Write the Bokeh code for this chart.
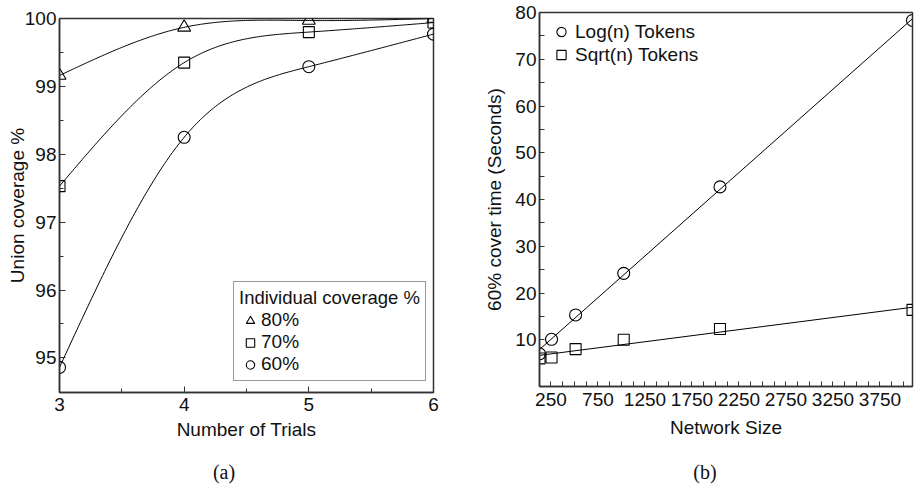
import numpy as np
from bokeh.plotting import figure
from bokeh.layouts import row, column
from bokeh.models import FixedTicker, Legend, LegendItem, Range1d, Div
from bokeh.embed import file_html
from bokeh.resources import INLINE

# ---------------- data (a) ----------------
trials = [3, 4, 5, 6]
cov80 = [99.16, 99.87, 99.97, 100.0]
cov70 = [97.53, 99.35, 99.80, 99.94]
cov60 = [94.86, 98.25, 99.29, 99.77]
a_xticks = [3, 4, 5, 6]
a_xminor = [3.5, 4.5, 5.5]
a_yticks = [95, 96, 97, 98, 99, 100]
a_yminor = [95.5, 96.5, 97.5, 98.5, 99.5]

# ---------------- data (b) ----------------
net_size = [128, 256, 512, 1024, 2048, 4096]
log_tokens = [7.0, 10.1, 15.3, 24.2, 42.7, 78.3]
sqrt_tokens = [6.0, 6.2, 8.0, 10.0, 12.3, 16.4]
b_xticks = [250, 750, 1250, 1750, 2250, 2750, 3250, 3750]
b_xminor = [v for v in range(125, 4096, 125) if v not in b_xticks]
b_yticks = [10, 20, 30, 40, 50, 60, 70, 80]
b_yminor = [5, 15, 25, 35, 45, 55, 65, 75]

FONT = "Liberation Sans"
FS = "19px"
TXT = "#111111"
AX = "#333333"


def natural_spline(x, y, xs):
    x = np.asarray(x, float)
    y = np.asarray(y, float)
    n = len(x)
    h = np.diff(x)
    A = np.zeros((n, n))
    b = np.zeros(n)
    A[0, 0] = 1
    A[-1, -1] = 1
    for i in range(1, n - 1):
        A[i, i - 1] = h[i - 1]
        A[i, i] = 2 * (h[i - 1] + h[i])
        A[i, i + 1] = h[i]
        b[i] = 6 * ((y[i + 1] - y[i]) / h[i] - (y[i] - y[i - 1]) / h[i - 1])
    M = np.linalg.solve(A, b)
    out = np.empty_like(xs)
    for k, t in enumerate(xs):
        i = min(max(np.searchsorted(x, t) - 1, 0), n - 2)
        a = (x[i + 1] - t) / h[i]
        c = (t - x[i]) / h[i]
        out[k] = (a * y[i] + c * y[i + 1]
                  + ((a ** 3 - a) * M[i] + (c ** 3 - c) * M[i + 1]) * h[i] ** 2 / 6)
    return out


def style(p):
    p.xgrid.visible = False
    p.ygrid.visible = False
    p.outline_line_color = AX
    p.outline_line_width = 1.5
    p.outline_line_alpha = 1
    p.background_fill_color = "white"
    p.border_fill_color = "white"
    for ax in (p.xaxis[0], p.yaxis[0]):
        ax.axis_line_color = AX
        ax.axis_line_width = 1.5
        ax.major_tick_in = 6
        ax.major_tick_out = 0
        ax.minor_tick_in = 4
        ax.minor_tick_out = 0
        ax.major_tick_line_color = AX
        ax.minor_tick_line_color = AX
        ax.major_label_text_font = FONT
        ax.major_label_text_font_size = FS
        ax.major_label_text_color = TXT
        ax.axis_label_text_font = FONT
        ax.axis_label_text_font_size = FS
        ax.axis_label_text_font_style = "normal"
        ax.axis_label_text_color = TXT


def caption(text, width, height, left, top):
    html = ('<div style="margin-left:%dpx; width:54px; padding-top:%dpx; text-align:center; '
            'font-family:\'Liberation Serif\', serif; font-size:20px; line-height:24px; '
            'color:%s;">%s</div>') % (left, top, TXT, text)
    return Div(text=html, width=width, height=height, margin=0)


# ---------------- panel (a) ----------------
pa = figure(width=460, height=448, x_range=Range1d(3, 6), y_range=Range1d(94.49, 100),
            output_backend="svg", toolbar_location=None,
            min_border_left=59, min_border_right=27, min_border_top=18, min_border_bottom=56)
style(pa)
pa.xaxis[0].ticker = FixedTicker(ticks=a_xticks, minor_ticks=a_xminor)
pa.yaxis[0].ticker = FixedTicker(ticks=a_yticks, minor_ticks=a_yminor)
pa.xaxis[0].axis_label = "Number of Trials"
pa.yaxis[0].axis_label = "Union coverage %"
pa.xaxis[0].major_label_standoff = 5
pa.yaxis[0].major_label_standoff = 3
pa.yaxis[0].axis_label_standoff = -6
pa.xaxis[0].axis_label_standoff = 5

xs = np.linspace(3, 6, 200)
rends = {}
for vals, marker, size, key in ((cov80, "triangle", 13, "80%"),
                                (cov70, "square", 11, "70%"),
                                (cov60, "circle", 12, "60%")):
    pa.line(xs, natural_spline(trials, vals, xs), line_color="black", line_width=1)
    rends[key] = pa.scatter(trials, vals, marker=marker, size=size, fill_color=None,
                            line_color="black", line_width=1.1)

leg_a = Legend(items=[LegendItem(label=k, renderers=[rends[k]]) for k in ("80%", "70%", "60%")],
               title="Individual coverage %", location=(174, 11), padding=5, spacing=0,
               glyph_width=22, glyph_height=21, label_height=21, label_standoff=0,
               label_text_font=FONT, label_text_font_size=FS, label_text_color=TXT,
               title_text_font=FONT, title_text_font_size="18.5px", title_text_font_style="normal",
               title_text_color=TXT, title_standoff=0,
               border_line_color=AX, border_line_width=1.5, background_fill_color="white")
pa.add_layout(leg_a)
cap_a = caption("(a)", 460, 36, 197, 12)

# ---------------- panel (b) ----------------
pb = figure(width=454, height=446, x_range=Range1d(128, 4096), y_range=Range1d(0, 80),
            output_backend="svg", toolbar_location=None,
            min_border_left=79, min_border_right=2, min_border_top=12, min_border_bottom=60)
style(pb)
pb.xaxis[0].ticker = FixedTicker(ticks=b_xticks, minor_ticks=b_xminor)
pb.yaxis[0].ticker = FixedTicker(ticks=b_yticks, minor_ticks=b_yminor)
pb.xaxis[0].major_tick_in = 5
pb.xaxis[0].minor_tick_in = 5
pb.yaxis[0].major_tick_in = 5
pb.yaxis[0].minor_tick_in = 5
pb.xaxis[0].axis_label = "Network Size"
pb.yaxis[0].axis_label = "60% cover time (Seconds)"
pb.xaxis[0].major_label_standoff = 6
pb.yaxis[0].major_label_standoff = 3
pb.yaxis[0].axis_label_standoff = 7
pb.xaxis[0].axis_label_standoff = 8

xn = np.array(net_size, float)
for vals in (log_tokens, sqrt_tokens):
    k, c = np.polyfit(xn, np.array(vals), 1)
    pb.line([xn[0], xn[-1]], [k * xn[0] + c, k * xn[-1] + c], line_color="black", line_width=1)
r_log = pb.scatter(net_size, log_tokens, marker="circle", size=12, fill_color=None,
                   line_color="black", line_width=1.1)
r_sqrt = pb.scatter(net_size, sqrt_tokens, marker="square", size=11, fill_color=None,
                    line_color="black", line_width=1.1)
leg_b = Legend(items=[LegendItem(label="Log(n) Tokens", renderers=[r_log]),
                      LegendItem(label="Sqrt(n) Tokens", renderers=[r_sqrt])],
               location="top_left", margin=0, padding=8, spacing=0,
               glyph_width=28, glyph_height=23, label_height=23, label_standoff=-2,
               label_text_font=FONT, label_text_font_size=FS, label_text_color=TXT,
               border_line_alpha=0, background_fill_alpha=0)
pb.add_layout(leg_b)
cap_b = caption("(b)", 454, 38, 218, 14)

layout = row(column(pa, cap_a, spacing=0), column(pb, cap_b, spacing=0), spacing=0)
open("out.html", "w").write(file_html(layout, INLINE))
